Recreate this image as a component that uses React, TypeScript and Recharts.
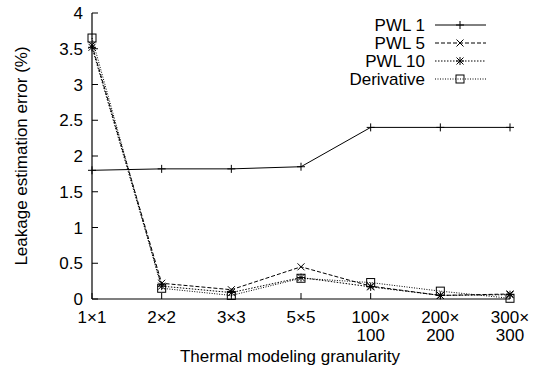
import React from 'react';
import { LineChart, Line, XAxis, YAxis } from 'recharts';

const categories = ['1×1', '2×2', '3×3', '5×5', '100×100', '200×200', '300×300'];
const tickLines = [['1×1'], ['2×2'], ['3×3'], ['5×5'], ['100×', '100'], ['200×', '200'], ['300×', '300']];
const pwl1 = [1.8, 1.82, 1.82, 1.85, 2.4, 2.4, 2.4];
const pwl5 = [3.55, 0.22, 0.13, 0.45, 0.18, 0.05, 0.07];
const pwl10 = [3.52, 0.18, 0.09, 0.3, 0.17, 0.05, 0.06];
const derivative = [3.65, 0.15, 0.05, 0.29, 0.23, 0.11, 0.01];
const yTicks = [0, 0.5, 1, 1.5, 2, 2.5, 3, 3.5, 4];
const seriesNames = ['PWL 1', 'PWL 5', 'PWL 10', 'Derivative'];

const FONT = '"Liberation Sans", Arial, Helvetica, sans-serif';
const INK = '#000';

const data = categories.map((cat, i) => ({
  cat,
  pwl1: pwl1[i],
  pwl5: pwl5[i],
  pwl10: pwl10[i],
  derivative: derivative[i],
}));

type Marker = 'plus' | 'cross' | 'star' | 'square';

const drawMarker = (kind: Marker, x: number, y: number, key?: string) => {
  const s = 4;
  const plus = (
    <>
      <line x1={x - s} y1={y} x2={x + s} y2={y} />
      <line x1={x} y1={y - s} x2={x} y2={y + s} />
    </>
  );
  const cross = (
    <>
      <line x1={x - 3.5} y1={y - 3.5} x2={x + 3.5} y2={y + 3.5} />
      <line x1={x - 3.5} y1={y + 3.5} x2={x + 3.5} y2={y - 3.5} />
    </>
  );
  return (
    <g key={key} stroke={INK} strokeWidth={1} fill="none">
      {kind === 'plus' && plus}
      {kind === 'cross' && cross}
      {kind === 'star' && (
        <>
          {plus}
          {cross}
        </>
      )}
      {kind === 'square' && <rect x={x - 4} y={y - 4} width={8} height={8} />}
    </g>
  );
};

const dotFor = (kind: Marker) => (props: any) =>
  drawMarker(kind, props.cx, props.cy, `${kind}-${props.index}`);

const BottomTick = (props: any) => {
  const { x, y, index } = props;
  const lines = tickLines[index] || [];
  return (
    <g>
      <line x1={x} y1={y} x2={x} y2={y - 6} stroke={INK} />
      {lines.map((t, i) => (
        <text key={i} x={x} y={y + 24 + i * 18} textAnchor="middle" fontSize={17} fill={INK} fontFamily={FONT}>
          {t}
        </text>
      ))}
    </g>
  );
};

const TopTick = (props: any) => (
  <line x1={props.x} y1={props.y} x2={props.x} y2={props.y + 6} stroke={INK} />
);

const LeftTick = (props: any) => {
  const { x, y, payload } = props;
  return (
    <g>
      <line x1={x} y1={y} x2={x + 6} y2={y} stroke={INK} />
      <text x={x - 9} y={y + 6} textAnchor="end" fontSize={17} fill={INK} fontFamily={FONT}>
        {String(payload.value)}
      </text>
    </g>
  );
};

const RightTick = (props: any) => (
  <line x1={props.x} y1={props.y} x2={props.x - 6} y2={props.y} stroke={INK} />
);

const legendItems: { name: string; dash?: string; marker: Marker }[] = [
  { name: seriesNames[0], marker: 'plus' },
  { name: seriesNames[1], dash: '4 2', marker: 'cross' },
  { name: seriesNames[2], dash: '1.5 1.5', marker: 'star' },
  { name: seriesNames[3], dash: '1 1.5', marker: 'square' },
];

export default function App() {
  return (
    <div style={{ position: 'absolute', left: 0, top: 0, width: 533, height: 368, background: '#fff' }}>
      <LineChart width={533} height={368} data={data} margin={{ top: 13, right: 23, left: 0, bottom: 0 }}>
        <XAxis
          dataKey="cat"
          height={69}
          tickSize={0}
          tickMargin={0}
          interval={0}
          axisLine={{ stroke: INK, strokeWidth: 1.2 }}
          tickLine={false}
          tick={<BottomTick />}
        />
        <XAxis
          xAxisId="top"
          dataKey="cat"
          orientation="top"
          height={0}
          tickSize={0}
          tickMargin={0}
          interval={0}
          axisLine={{ stroke: INK, strokeWidth: 1.2 }}
          tickLine={false}
          tick={<TopTick />}
        />
        <YAxis
          width={92}
          domain={[0, 4]}
          ticks={yTicks}
          tickSize={0}
          tickMargin={0}
          interval={0}
          axisLine={{ stroke: INK, strokeWidth: 1.2 }}
          tickLine={false}
          tick={<LeftTick />}
        />
        <YAxis
          yAxisId="right"
          orientation="right"
          width={0}
          domain={[0, 4]}
          ticks={yTicks}
          tickSize={0}
          tickMargin={0}
          interval={0}
          axisLine={{ stroke: INK, strokeWidth: 1.2 }}
          tickLine={false}
          tick={<RightTick />}
        />
        <Line dataKey="pwl1" name={seriesNames[0]} stroke={INK} strokeWidth={1} dot={dotFor('plus')} isAnimationActive={false} />
        <Line dataKey="pwl5" name={seriesNames[1]} stroke={INK} strokeWidth={1} strokeDasharray="4 2" dot={dotFor('cross')} isAnimationActive={false} />
        <Line dataKey="pwl10" name={seriesNames[2]} stroke={INK} strokeWidth={1} strokeDasharray="1.5 1.5" dot={dotFor('star')} isAnimationActive={false} />
        <Line dataKey="derivative" name={seriesNames[3]} stroke={INK} strokeWidth={1} strokeDasharray="1 1.5" dot={dotFor('square')} isAnimationActive={false} />
      </LineChart>
      <svg width={533} height={368} style={{ position: 'absolute', left: 0, top: 0, pointerEvents: 'none' }}>
        {legendItems.map((it, i) => {
          const y = 25 + i * 18;
          return (
            <g key={it.name}>
              <text x={425} y={y + 6} textAnchor="end" fontSize={17} fill={INK} fontFamily={FONT}>
                {it.name}
              </text>
              <line x1={435} y1={y} x2={486} y2={y} stroke={INK} strokeDasharray={it.dash} />
              {drawMarker(it.marker, 460, y)}
            </g>
          );
        })}
        <text x={290} y={362} textAnchor="middle" fontSize={17} fill={INK} fontFamily={FONT}>
          Thermal modeling granularity
        </text>
        <text
          x={0}
          y={0}
          transform="translate(27,156) rotate(-90)"
          textAnchor="middle"
          fontSize={17}
          fill={INK}
          fontFamily={FONT}
        >
          Leakage estimation error (%)
        </text>
      </svg>
    </div>
  );
}
